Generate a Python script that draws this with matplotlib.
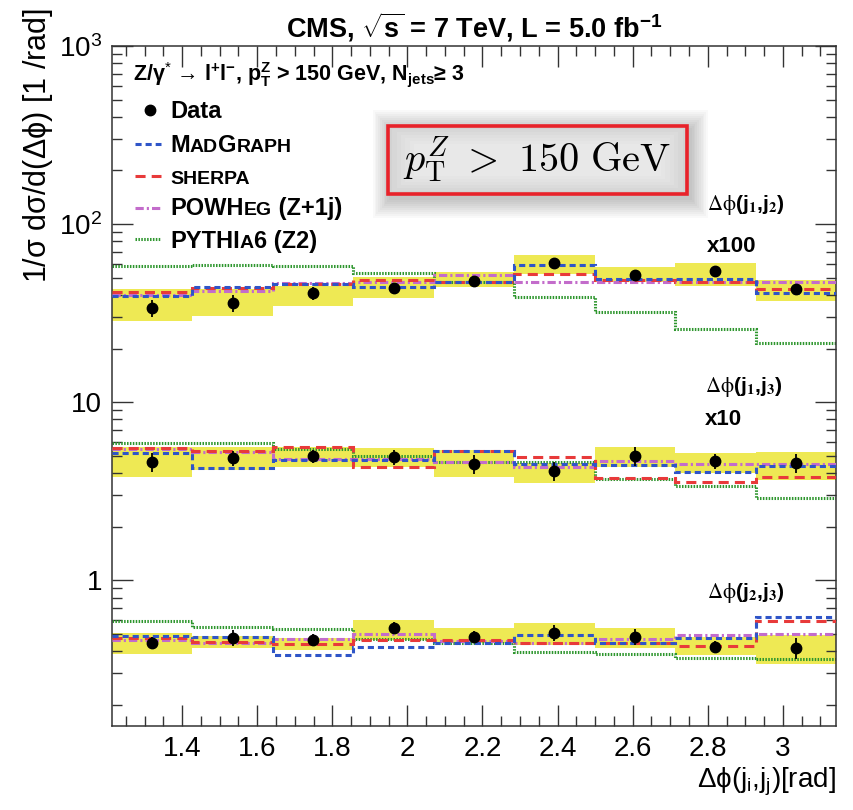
import numpy as np
import matplotlib
matplotlib.use('Agg')
import matplotlib.pyplot as plt
from matplotlib.patches import Rectangle
from matplotlib.ticker import MultipleLocator, LogLocator, NullFormatter

plt.rcParams['font.family'] = ['Liberation Sans', 'DejaVu Sans']
plt.rcParams['mathtext.fontset'] = 'custom'
plt.rcParams['mathtext.rm'] = 'Liberation Sans'
plt.rcParams['mathtext.it'] = 'Liberation Sans:italic'
plt.rcParams['mathtext.bf'] = 'Liberation Sans:bold'

# bin edges in delta phi [rad]
edges = np.linspace(1.2133, np.pi, 10)

# normalised distributions (before the x100 / x10 offsets)
# dphi(j1,j2)
j12_data = [0.336, 0.359, 0.408, 0.435, 0.482, 0.601, 0.515, 0.542, 0.430]
j12_err = [0.11, 0.11, 0.08, 0.07, 0.06, 0.06, 0.07, 0.07, 0.06]
j12_lo = [0.284, 0.306, 0.348, 0.386, 0.446, 0.527, 0.475, 0.451, 0.371]
j12_hi = [0.430, 0.430, 0.451, 0.507, 0.541, 0.674, 0.577, 0.608, 0.488]
j12_mg = [0.393, 0.441, 0.459, 0.441, 0.470, 0.587, 0.494, 0.494, 0.410]
j12_sh = [0.413, 0.435, 0.459, 0.485, 0.473, 0.522, 0.485, 0.470, 0.430]
j12_pw = [0.398, 0.419, 0.464, 0.473, 0.520, 0.473, 0.470, 0.470, 0.470]
j12_py = [0.579, 0.587, 0.579, 0.528, 0.470, 0.388, 0.322, 0.256, 0.214]

# dphi(j1,j3)
j13_data = [0.461, 0.486, 0.498, 0.492, 0.450, 0.411, 0.498, 0.467, 0.455]
j13_err = [0.12, 0.10, 0.08, 0.10, 0.12, 0.12, 0.12, 0.10, 0.12]
j13_lo = [0.382, 0.417, 0.434, 0.434, 0.378, 0.353, 0.434, 0.402, 0.367]
j13_hi = [0.562, 0.562, 0.562, 0.555, 0.541, 0.457, 0.562, 0.520, 0.527]
j13_mg = [0.518, 0.427, 0.474, 0.474, 0.532, 0.450, 0.444, 0.405, 0.438]
j13_sh = [0.553, 0.532, 0.560, 0.433, 0.530, 0.492, 0.376, 0.356, 0.380]
j13_pw = [0.546, 0.525, 0.480, 0.480, 0.460, 0.433, 0.467, 0.450, 0.450]
j13_py = [0.589, 0.589, 0.546, 0.498, 0.460, 0.460, 0.371, 0.339, 0.290]

# dphi(j2,j3)
j23_data = [0.446, 0.476, 0.464, 0.541, 0.482, 0.507, 0.482, 0.423, 0.418]
j23_err = [0.08, 0.10, 0.08, 0.08, 0.08, 0.10, 0.10, 0.08, 0.14]
j23_lo = [0.386, 0.418, 0.407, 0.464, 0.446, 0.434, 0.418, 0.381, 0.340]
j23_hi = [0.507, 0.488, 0.476, 0.600, 0.541, 0.577, 0.541, 0.482, 0.494]
j23_mg = [0.488, 0.482, 0.381, 0.423, 0.446, 0.494, 0.446, 0.476, 0.624]
j23_sh = [0.476, 0.452, 0.440, 0.464, 0.464, 0.446, 0.446, 0.429, 0.593]
j23_pw = [0.464, 0.446, 0.470, 0.501, 0.458, 0.446, 0.470, 0.494, 0.501]
j23_py = [0.593, 0.548, 0.534, 0.470, 0.446, 0.396, 0.386, 0.367, 0.362]

scales = [100, 10, 1]

c_mg = '#2f55c8'
c_sh = '#e83a3a'
c_pw = '#c36ccb'
c_py = '#2e962e'
c_band = '#eee954'
ls_mg = (0, (2.0, 1.3))
ls_sh = (0, (3.3, 2.0))
ls_pw = (0, (2.7, 1.0, 0.7, 1.0))
ls_py = (0, (0.5, 0.45))
lw = 2.2

fig = plt.figure(figsize=(8.54, 8.10), dpi=100)
ax = fig.add_axes([112/854, 1-726/810, 724/854, 680/810])
ax.set_yscale('log')

centers = 0.5*(edges[1:] + edges[:-1])
width = np.diff(edges)

groups = [
    (j12_data, j12_err, j12_lo, j12_hi, j12_mg, j12_sh, j12_pw, j12_py),
    (j13_data, j13_err, j13_lo, j13_hi, j13_mg, j13_sh, j13_pw, j13_py),
    (j23_data, j23_err, j23_lo, j23_hi, j23_mg, j23_sh, j23_pw, j23_py),
]

for (dat, err, lo, hi, mg, sh, pw, py), s in zip(groups, scales):
    lo = np.array(lo)*s
    hi = np.array(hi)*s
    ax.bar(centers, hi-lo, bottom=lo, width=width, color=c_band, linewidth=0, zorder=1)
    ax.stairs(np.array(py)*s, edges, baseline=None, color=c_py, lw=lw, ls=ls_py, zorder=2)
    ax.stairs(np.array(pw)*s, edges, baseline=None, color=c_pw, lw=lw, ls=ls_pw, zorder=3)
    ax.stairs(np.array(sh)*s, edges, baseline=None, color=c_sh, lw=lw, ls=ls_sh, zorder=4)
    ax.stairs(np.array(mg)*s, edges, baseline=None, color=c_mg, lw=lw, ls=ls_mg, zorder=5)
    d = np.array(dat)*s
    ax.errorbar(centers, d, yerr=d*np.array(err), fmt='o', color='black', ms=7.5,
                elinewidth=1.3, capsize=0, zorder=6)

ax.set_xlim(edges[0], edges[-1])
ax.set_ylim(0.152, 1000)

xt = [1.4, 1.6, 1.8, 2.0, 2.2, 2.4, 2.6, 2.8, 3.0]
ax.set_xticks(xt, labels=['1.4', '1.6', '1.8', '2', '2.2', '2.4', '2.6', '2.8', '3'])
ax.xaxis.set_minor_locator(MultipleLocator(0.05))
ax.set_yticks([1, 10, 100, 1000], labels=['1', '10', '10$^2$', '10$^3$'])
ax.yaxis.set_minor_locator(LogLocator(base=10, subs=np.arange(2, 10)))
ax.yaxis.set_minor_formatter(NullFormatter())
ax.tick_params(which='both', direction='in', top=True, right=True, labelsize=20, width=1.0, color='#333333')
ax.tick_params(which='major', length=15, pad=7)
ax.tick_params(which='minor', length=7.5)
for sp in ax.spines.values():
    sp.set_linewidth(1.1)
    sp.set_color('#333333')

def fx(px):
    return (px - 112)/724.0

def fy(py):
    return (726 - py)/680.0

# title
ax.text(0.5, fy(38), r'CMS, $\sqrt{\mathbf{s}}$ = 7 TeV, L = 5.0 fb$^{\mathbf{-1}}$',
        transform=ax.transAxes, ha='center', va='baseline', fontsize=19.5, fontweight='bold')

# selection text
ax.text(fx(133), fy(80), 'Z/γ$^{*}$ → l$^{\\mathbf{+}}$l$^{\\mathbf{-}}$, p$_{\\mathbf{T}}^{\\mathbf{Z}}$ > 150 GeV, N$_{\\mathbf{jets}}$≥ 3',
        transform=ax.transAxes, ha='left', va='baseline', fontsize=15.5, fontweight='bold')

# legend (drawn by hand for the small-caps generator names)
def chain(x, y, pieces):
    t = ax.text(x, y, pieces[0][0], fontsize=pieces[0][1], transform=ax.transAxes,
                va='baseline', ha='left', fontweight='bold')
    for txt, fs in pieces[1:]:
        t = ax.annotate(txt, xy=(1, y), xycoords=(t, 'axes fraction'), fontsize=fs,
                        va='baseline', ha='left', fontweight='bold')
    return t

big, small = 17, 14
ax.plot([fx(150)], [fy(110)], 'o', color='black', ms=7.5, transform=ax.transAxes, clip_on=False)
chain(fx(170), fy(118), [('Data', big)])
ax.plot([fx(135), fx(161)], [fy(144)]*2, color=c_mg, lw=lw, ls=ls_mg, transform=ax.transAxes)
chain(fx(170), fy(152), [('M', big), ('AD', small), ('G', big), ('RAPH', small)])
ax.plot([fx(135), fx(161)], [fy(176)]*2, color=c_sh, lw=lw, ls=ls_sh, transform=ax.transAxes)
chain(fx(170), fy(184), [('SHERPA', small)])
ax.plot([fx(135), fx(161)], [fy(208)]*2, color=c_pw, lw=lw, ls=ls_pw, transform=ax.transAxes)
chain(fx(170), fy(215), [('POWH', big), ('EG', small), (' (Z+1j)', big)])
ax.plot([fx(135), fx(161)], [fy(239)]*2, color=c_py, lw=lw, ls=ls_py, transform=ax.transAxes)
chain(fx(170), fy(248), [('PYTHI', big), ('A', small), ('6 (Z2)', big)])

# highlighted box with a soft shadow and a lighter centre
bx0, bx1, by0, by1 = fx(388), fx(687), fy(194), fy(126)
for i in range(10):
    g = (i + 1)*0.0025
    ax.add_patch(Rectangle((bx0 - g + 0.004, by0 - g*1.2 - 0.006), (bx1 - bx0) + 2*g, (by1 - by0) + 2.4*g,
                           transform=ax.transAxes, facecolor='black', edgecolor='none', alpha=0.025, zorder=7))
ax.add_patch(Rectangle((bx0, by0), bx1 - bx0, by1 - by0, transform=ax.transAxes,
                       facecolor='#d2d2d2', edgecolor='none', zorder=8))
for i in range(6):
    mx = (i + 1)*0.006
    my = (i + 1)*0.0045
    ax.add_patch(Rectangle((bx0 + mx, by0 + my), bx1 - bx0 - 2*mx, by1 - by0 - 2*my, transform=ax.transAxes,
                           facecolor='white', edgecolor='none', alpha=0.12, zorder=8))
ax.add_patch(Rectangle((bx0, by0), bx1 - bx0, by1 - by0, transform=ax.transAxes,
                       facecolor='none', edgecolor='#e8222a', lw=2.6, zorder=8))
ax.text(0.5*(bx0 + bx1), fy(160), r'$p_{\rm T}^{Z}\ >\ 150\ {\rm GeV}$', transform=ax.transAxes,
        ha='center', va='center', fontsize=29, math_fontfamily='cm', zorder=9)

# group labels
lab_kw = dict(transform=ax.transAxes, ha='left', va='baseline', fontweight='bold')
ax.text(fx(707), fy(210), r'$\mathrm{\Delta\phi}$(j$_{\mathbf{1}}$,j$_{\mathbf{2}}$)', math_fontfamily='stix', fontsize=15, **lab_kw)
ax.text(fx(707), fy(252), 'x100', fontsize=16, **lab_kw)
ax.text(fx(705), fy(392), r'$\mathrm{\Delta\phi}$(j$_{\mathbf{1}}$,j$_{\mathbf{3}}$)', math_fontfamily='stix', fontsize=15, **lab_kw)
ax.text(fx(705), fy(425), 'x10', fontsize=16, **lab_kw)
ax.text(fx(707), fy(598), r'$\mathrm{\Delta\phi}$(j$_{\mathbf{2}}$,j$_{\mathbf{3}}$)', math_fontfamily='stix', fontsize=15, **lab_kw)

# axis titles
ax.text(1.0, fy(788), r'$\mathrm{\Delta\phi}$(j$_{\rm i}$,j$_{\rm j}$)[rad]', transform=ax.transAxes,
        ha='right', va='baseline', fontsize=20)
ax.text(fx(38), fy(8), r'1/$\mathrm{\sigma}$ d$\mathrm{\sigma}$/d($\mathrm{\Delta\phi}$) [1 /rad]', transform=ax.transAxes,
        ha='center', va='top', rotation=90, fontsize=22)

fig.savefig('out.png', dpi=100)
